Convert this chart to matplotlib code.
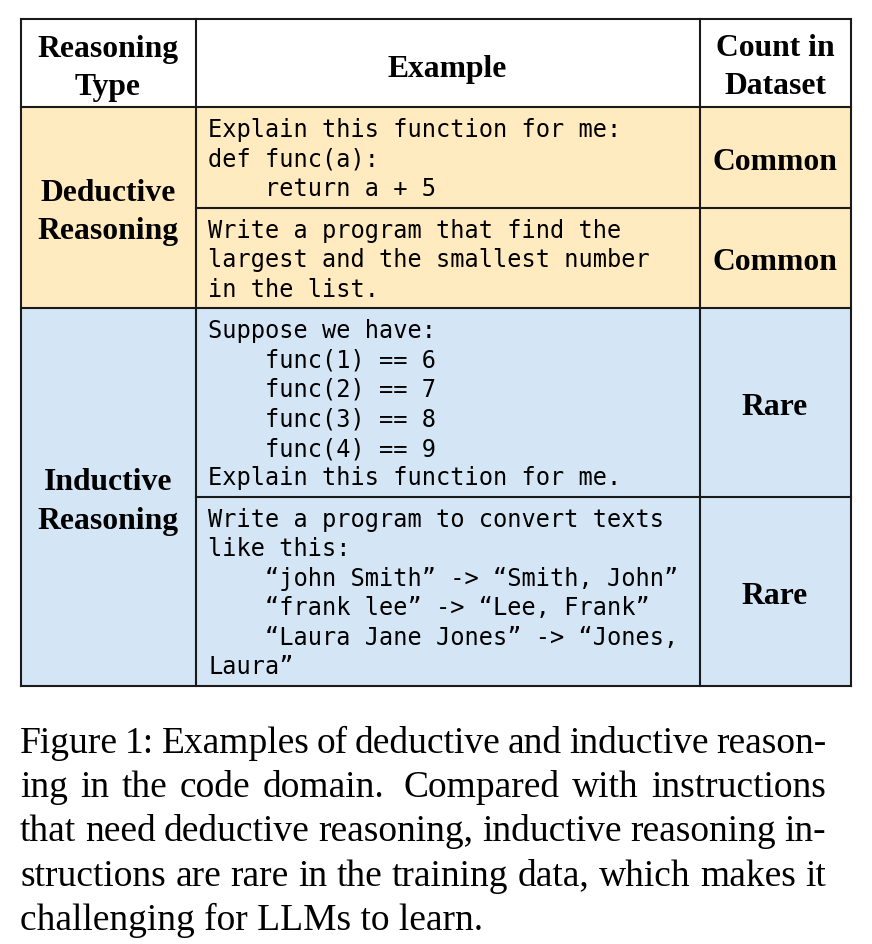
import matplotlib
matplotlib.use("Agg")
import matplotlib.pyplot as plt
from matplotlib.patches import Rectangle

# table content
headers = ["Reasoning\nType", "Example", "Count in\nDataset"]
groups = ["Deductive\nReasoning", "Inductive\nReasoning"]
group_rows = [2, 2]
examples = [
    ["Explain this function for me:", "def func(a):", "    return a + 5"],
    ["Write a program that find the", "largest and the smallest number", "in the list."],
    ["Suppose we have:", "    func(1) == 6", "    func(2) == 7", "    func(3) == 8",
     "    func(4) == 9", "Explain this function for me."],
    ["Write a program to convert texts", "like this:",
     "    \u201cjohn Smith\u201d -> \u201cSmith, John\u201d",
     "    \u201cfrank lee\u201d -> \u201cLee, Frank\u201d",
     "    \u201cLaura Jane Jones\u201d -> \u201cJones,", "Laura\u201d"],
]
counts = ["Common", "Common", "Rare", "Rare"]
caption = [
    "Figure 1: Examples of deductive and inductive reason-",
    "ing in the code domain.  Compared with instructions",
    "that need deductive reasoning, inductive reasoning in-",
    "structions are rare in the training data, which makes it",
    "challenging for LLMs to learn.",
]

group_colors = ["#FFEBBF", "#D4E6F5"]
line_color = "#1a1a1a"
serif = "Liberation Serif"
mono = "DejaVu Sans Mono"

# layout in pixels
col_x = [20.5, 195.5, 699.5, 850.5]
row_y = [18.5, 106.5, 207.5, 307.5, 496.5, 685.5]
code_pitch = 29.5

fig = plt.figure(figsize=(8.72, 9.44), dpi=100)
ax = fig.add_axes([0, 0, 1, 1])
ax.set_xlim(0, 872)
ax.set_ylim(944, 0)
ax.axis("off")


def two_lines(x, y, s):
    # two bold serif lines centred on (x, y), 38 px apart
    a, b = s.split("\n")
    for dy, t in [(-19, a), (19, b)]:
        ax.text(x, y + dy, t, family=serif, weight="bold", fontsize=22.8,
                ha="center", va="center_baseline")


# backgrounds
r = 1
for g, n in enumerate(group_rows):
    top, bot = row_y[r], row_y[r + n]
    ax.add_patch(Rectangle((col_x[0], top), col_x[-1] - col_x[0], bot - top,
                           facecolor=group_colors[g], edgecolor="none", zorder=0))
    two_lines((col_x[0] + col_x[1]) / 2, (top + bot) / 2 + 2, groups[g])
    r += n

# header
hy = (row_y[0] + row_y[1]) / 2
two_lines((col_x[0] + col_x[1]) / 2, hy + 2, headers[0])
ax.text((col_x[1] + col_x[2]) / 2, hy + 3, headers[1], family=serif,
        weight="bold", fontsize=22.8, ha="center", va="center_baseline")
two_lines((col_x[2] + col_x[3]) / 2, hy + 2, headers[2])

# example cells and counts
for i, (lines, cnt) in enumerate(zip(examples, counts)):
    top, bot = row_y[i + 1], row_y[i + 2]
    for k, ln in enumerate(lines):
        ax.text(col_x[1] + 12.5, top + 21 + k * code_pitch, ln, family=mono,
                fontsize=17, ha="left", va="center_baseline")
    ax.text((col_x[2] + col_x[3]) / 2, (top + bot) / 2 + 2, cnt,
            family=serif, weight="bold", fontsize=22.8, ha="center",
            va="center_baseline")

# grid lines
lw = 1.5
for y in [row_y[0], row_y[1], row_y[3], row_y[5]]:
    ax.plot([col_x[0], col_x[-1]], [y, y], color=line_color, lw=lw,
            solid_capstyle="projecting")
for y in [row_y[2], row_y[4]]:
    ax.plot([col_x[1], col_x[-1]], [y, y], color=line_color, lw=lw)
for x in col_x:
    ax.plot([x, x], [row_y[0], row_y[-1]], color=line_color, lw=lw,
            solid_capstyle="projecting")

# justified caption
renderer = fig.canvas.get_renderer()
cap_left, cap_right = 20, 826
cap_size = 27
for k, ln in enumerate(caption):
    y = 753 + k * 44.2
    if k == len(caption) - 1:
        ax.text(cap_left, y, ln, family=serif, fontsize=cap_size, ha="left",
                va="baseline")
        continue
    # gaps: a double space counts as a wider gap
    gap_w = []
    toks = []
    extra = 0
    for w in ln.split(" "):
        if w == "":
            extra += 1
        else:
            if toks:
                gap_w.append(1 + 0.6 * extra)
            toks.append(w)
            extra = 0
    objs = [ax.text(0, y, w, family=serif, fontsize=cap_size, ha="left",
                    va="baseline") for w in toks]
    widths = [o.get_window_extent(renderer).width for o in objs]
    unit = ((cap_right - cap_left) - sum(widths)) / sum(gap_w)
    x = cap_left
    for j, o in enumerate(objs):
        o.set_x(x)
        x += widths[j]
        if j < len(gap_w):
            x += unit * gap_w[j]

fig.savefig("out.png", dpi=100)
